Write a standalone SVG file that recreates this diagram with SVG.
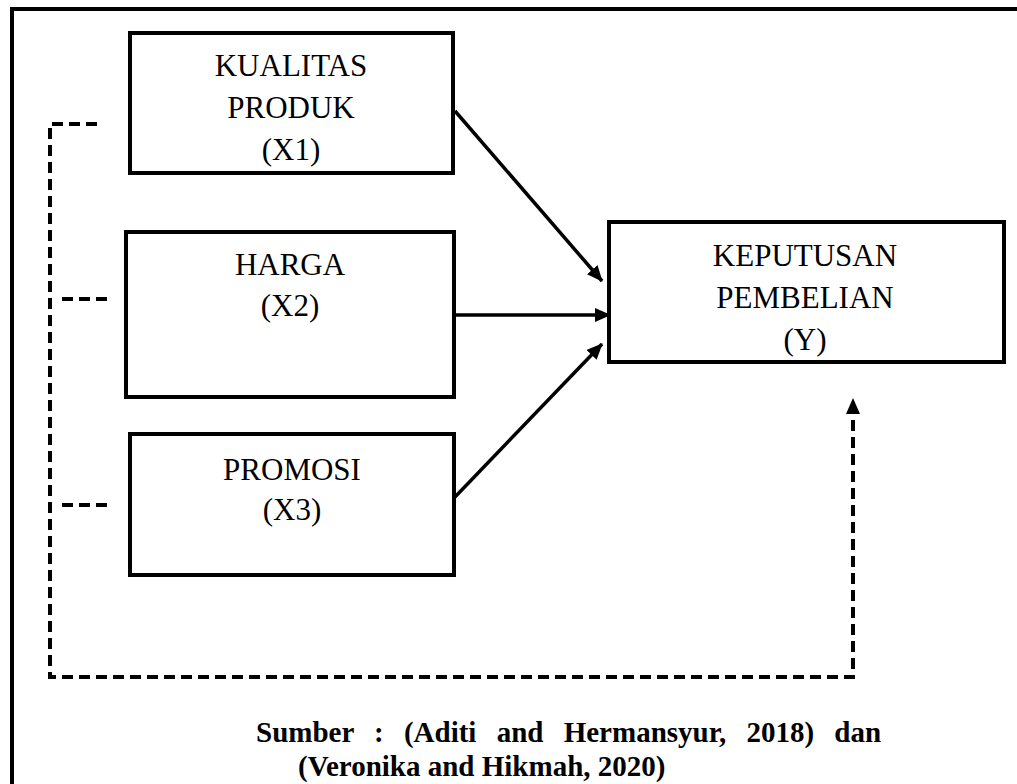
<svg xmlns="http://www.w3.org/2000/svg" width="1017" height="784" viewBox="0 0 1017 784">
<style>
.box{fill:#fff;stroke:#000;stroke-width:4}
.t{font-family:"Liberation Serif","Times New Roman",serif;font-size:31px;fill:#000;text-anchor:middle}
.src{font-family:"Liberation Serif","Times New Roman",serif;font-size:29px;font-weight:bold;fill:#000}
.arr{stroke:#000;stroke-width:3.5;fill:none}
.dash{stroke:#000;stroke-width:4;fill:none;stroke-dasharray:11 6}
</style>
<defs>
<marker id="ahb" markerWidth="16" markerHeight="14" refX="15" refY="7" orient="auto" markerUnits="userSpaceOnUse">
<path d="M0,0 L16,7 L0,14 z" fill="#000"/>
</marker>
</defs>
<rect width="1017" height="784" fill="#fff"/>
<g id="frame">
<line x1="10" y1="9" x2="1017" y2="9" stroke="#000" stroke-width="4"/>
<line x1="12" y1="7" x2="12" y2="784" stroke="#000" stroke-width="4"/>
</g>
<g id="connectors">
<line class="arr" x1="455" y1="111" x2="602" y2="281" marker-end="url(#ahb)"/>
<line class="arr" x1="455" y1="315" x2="610" y2="315" marker-end="url(#ahb)"/>
<line class="arr" x1="455" y1="497" x2="602" y2="344" marker-end="url(#ahb)"/>
<path class="dash" d="M97,124 H50 V677 H853 V399" marker-end="url(#ahb)"/>
<line class="dash" x1="62" y1="299" x2="107" y2="299"/>
<line class="dash" x1="62" y1="505" x2="107" y2="505"/>
</g>
<g id="x1">
<rect class="box" x="130" y="33" width="323" height="140"/>
<text class="t" x="291" y="76">KUALITAS</text>
<text class="t" x="291" y="118">PRODUK</text>
<text class="t" x="291" y="160">(X1)</text>
</g>
<g id="x2">
<rect class="box" x="126" y="232" width="328" height="165"/>
<text class="t" x="290" y="275">HARGA</text>
<text class="t" x="290" y="316">(X2)</text>
</g>
<g id="x3">
<rect class="box" x="130" y="434" width="324" height="141"/>
<text class="t" x="292" y="480">PROMOSI</text>
<text class="t" x="292" y="520">(X3)</text>
</g>
<g id="y">
<rect class="box" x="609" y="222" width="395" height="140"/>
<text class="t" x="805" y="266">KEPUTUSAN</text>
<text class="t" x="805" y="308">PEMBELIAN</text>
<text class="t" x="805" y="350">(Y)</text>
</g>
<g id="source">
<text class="src" x="256" y="742" word-spacing="13">Sumber : (Aditi and Hermansyur, 2018) dan</text>
<text class="src" x="298" y="776">(Veronika and Hikmah, 2020)</text>
</g>
</svg>
